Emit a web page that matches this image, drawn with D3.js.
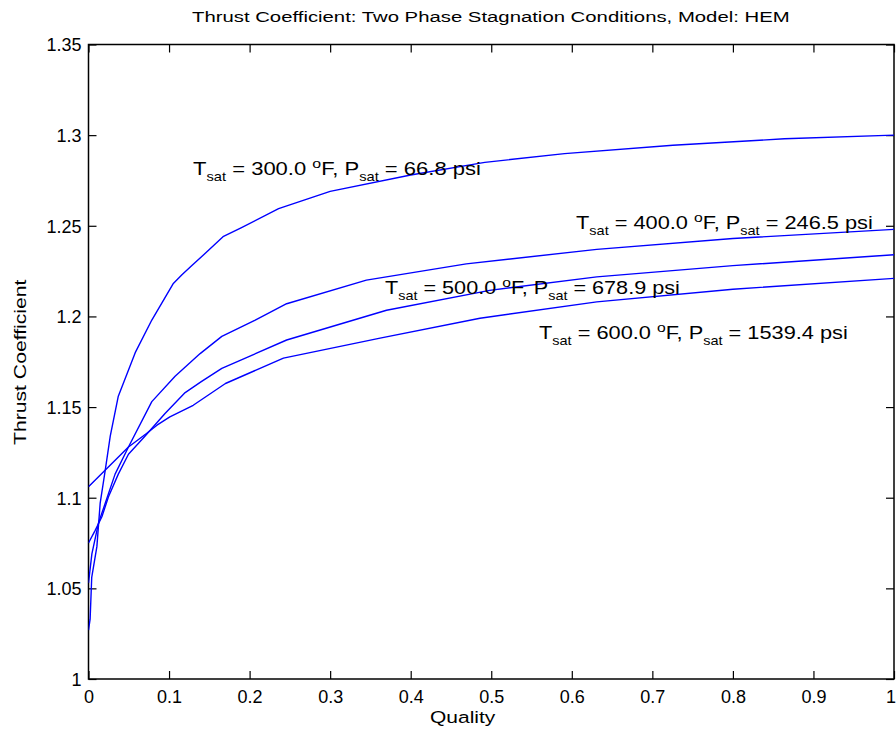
<!DOCTYPE html>
<html>
<head>
<meta charset="utf-8">
<script src="https://cdn.jsdelivr.net/npm/d3@7"></script>
<style>
  html, body { margin: 0; padding: 0; background: #fff; }
  svg { display: block; font-family: "Liberation Sans", Arial, Helvetica, sans-serif; }
</style>
</head>
<body>
<svg id="chart" width="896" height="737"></svg>
<script>
// ---------------- data ----------------
const titleText = "Thrust Coefficient: Two Phase Stagnation Conditions, Model: HEM";
const xLabelText = "Quality";
const yLabelText = "Thrust Coefficient";

const xTickValues = [0, 0.1, 0.2, 0.3, 0.4, 0.5, 0.6, 0.7, 0.8, 0.9, 1];
const xTickLabels = ["0", "0.1", "0.2", "0.3", "0.4", "0.5", "0.6", "0.7", "0.8", "0.9", "1"];
const yTickValues = [1, 1.05, 1.1, 1.15, 1.2, 1.25, 1.3, 1.35];
const yTickLabels = ["1", "1.05", "1.1", "1.15", "1.2", "1.25", "1.3", "1.35"];

// T_sat = 300 F
const quality300 = [0, 0.002, 0.004, 0.0104, 0.0145, 0.0207, 0.027, 0.037, 0.058, 0.0786, 0.105, 0.116, 0.128, 0.143, 0.167, 0.19, 0.236, 0.30, 0.40, 0.492, 0.591, 0.7255, 0.864, 1];
const thrust300  = [1.027, 1.033, 1.056, 1.073, 1.097, 1.115, 1.134, 1.156, 1.180, 1.198, 1.218, 1.223, 1.228, 1.234, 1.244, 1.249, 1.2595, 1.269, 1.278, 1.285, 1.2898, 1.2944, 1.298, 1.300];
// T_sat = 400 F
const quality400 = [0, 0.0042, 0.0124, 0.033, 0.0496, 0.0786, 0.1075, 0.1386, 0.1655, 0.207, 0.246, 0.345, 0.469, 0.631, 0.80, 1];
const thrust400  = [1.053, 1.069, 1.086, 1.113, 1.128, 1.153, 1.167, 1.1795, 1.189, 1.198, 1.207, 1.220, 1.229, 1.237, 1.243, 1.248];
// T_sat = 500 F
const quality500 = [0, 0.0083, 0.0166, 0.0248, 0.037, 0.0496, 0.0703, 0.095, 0.12, 0.14, 0.1655, 0.246, 0.37, 0.498, 0.631, 0.80, 1];
const thrust500  = [1.075, 1.082, 1.0895, 1.1005, 1.113, 1.124, 1.134, 1.1465, 1.158, 1.164, 1.1713, 1.187, 1.2034, 1.2144, 1.2218, 1.228, 1.234];
// T_sat = 600 F
const quality600 = [0, 0.0496, 0.072, 0.085, 0.101, 0.13, 0.17, 0.242, 0.362, 0.486, 0.631, 0.80, 1];
const thrust600  = [1.106, 1.128, 1.1354, 1.140, 1.1446, 1.151, 1.163, 1.177, 1.188, 1.199, 1.208, 1.215, 1.221];

const seriesTemps = ["300.0", "400.0", "500.0", "600.0"];
const seriesPress = ["66.8", "246.5", "678.9", "1539.4"];

// ---------------- layout ----------------
const svg = d3.select("#chart");
const L = 88.5, R = 894, T = 44.5, B = 679;
const x = d3.scaleLinear().domain([0, 1]).range([L, R]);
const y = d3.scaleLinear().domain([1, 1.35]).range([B, T]);
const FONT = "Liberation Sans, Arial, Helvetica, sans-serif";

// clip
svg.append("defs").append("clipPath").attr("id", "clip")
  .append("rect").attr("x", L).attr("y", T).attr("width", R - L).attr("height", B - T);

// ---------------- axes ----------------
const tickLen = 8;
const axisColor = "#000";

const gBottom = svg.append("g").attr("transform", `translate(0,${B})`)
  .call(d3.axisBottom(x).tickValues(xTickValues).tickFormat((d, i) => xTickLabels[i]).tickSizeInner(-tickLen).tickSizeOuter(0).tickPadding(11));
const gTop = svg.append("g").attr("transform", `translate(0,${T})`)
  .call(d3.axisTop(x).tickValues(xTickValues).tickFormat("").tickSizeInner(-tickLen).tickSizeOuter(0));
const gLeft = svg.append("g").attr("transform", `translate(${L},0)`)
  .call(d3.axisLeft(y).tickValues(yTickValues).tickFormat((d, i) => yTickLabels[i]).tickSizeInner(-tickLen).tickSizeOuter(0).tickPadding(7));
const gRight = svg.append("g").attr("transform", `translate(${R},0)`)
  .call(d3.axisRight(y).tickValues(yTickValues).tickFormat("").tickSizeInner(-tickLen).tickSizeOuter(0));

[gBottom, gTop, gLeft, gRight].forEach(g => {
  g.select(".domain").remove();
  g.selectAll(".tick line").attr("stroke", axisColor).attr("stroke-width", 1.2);
  g.selectAll(".tick text").attr("fill", "#000").attr("font-family", FONT).attr("font-size", 18);
});
gBottom.selectAll(".tick text").attr("dy", "0.71em");
// last x label sits at the window edge: keep it inside
gBottom.selectAll(".tick text").filter(d => d === 1).attr("text-anchor", "end").attr("x", 1.5);
gLeft.selectAll(".tick text").attr("dy", "0.36em");

// box
svg.append("rect").attr("x", L).attr("y", T).attr("width", R - L).attr("height", B - T)
  .attr("fill", "none").attr("stroke", axisColor).attr("stroke-width", 1.5);

// ---------------- lines ----------------
const line = d3.line().x(d => x(d[0])).y(d => y(d[1]));
const series = [
  d3.zip(quality300, thrust300),
  d3.zip(quality400, thrust400),
  d3.zip(quality500, thrust500),
  d3.zip(quality600, thrust600)
];
svg.append("g").attr("clip-path", "url(#clip)")
  .selectAll("path").data(series).join("path")
  .attr("d", line)
  .attr("fill", "none")
  .attr("stroke", "#0000ff")
  .attr("stroke-width", 1.4)
  .attr("stroke-linejoin", "round");

// ---------------- text helpers ----------------
function fitText(sel, x0, baseline, targetWidth, anchor) {
  const bb = sel.node().getBBox();
  const s = targetWidth / bb.width;
  let tx = x0;
  if (anchor === "middle") tx = x0 - (bb.x + bb.width / 2) * s;
  else tx = x0 - bb.x * s;
  sel.attr("transform", `translate(${tx},${baseline}) scale(${s},1)`);
}

// title
const title = svg.append("text").attr("font-family", FONT).attr("font-size", 15.5).attr("fill", "#000")
  .attr("x", 0).attr("y", 0).text(titleText);
fitText(title, 491, 22, 598, "middle");

// x label
const xl = svg.append("text").attr("font-family", FONT).attr("font-size", 17).attr("fill", "#000")
  .attr("x", 0).attr("y", 0).text(xLabelText);
fitText(xl, 463, 723, 66, "middle");

// y label (rotated)
const yl = svg.append("text").attr("font-family", FONT).attr("font-size", 17).attr("fill", "#000")
  .attr("x", 0).attr("y", 0).text(yLabelText);
{
  const bb = yl.node().getBBox();
  const s = 166 / bb.width;
  yl.attr("transform", `translate(26,362) rotate(-90) scale(${s},1) translate(${-(bb.x + bb.width / 2)},0)`);
}

// curve annotations
const annPos = [
  { x0: 193, base: 175, w: 288 },
  { x0: 576, base: 228.5, w: 297 },
  { x0: 385, base: 293.5, w: 295 },
  { x0: 539, base: 339, w: 309 }
];
seriesTemps.forEach((t, i) => {
  const p = annPos[i];
  const txt = svg.append("text").attr("font-family", FONT).attr("font-size", 18).attr("fill", "#000")
    .attr("x", 0).attr("y", 0);
  txt.append("tspan").text("T");
  txt.append("tspan").attr("font-size", 12).attr("dy", 6).text("sat");
  txt.append("tspan").attr("dy", -6).text(` = ${t} `);
  txt.append("tspan").attr("font-size", 13).attr("dy", -7).text("o");
  txt.append("tspan").attr("dy", 7).text("F, P");
  txt.append("tspan").attr("font-size", 12).attr("dy", 6).text("sat");
  txt.append("tspan").attr("dy", -6).text(` = ${seriesPress[i]} psi`);
  fitText(txt, p.x0, p.base, p.w, "start");
});
</script>
</body>
</html>
